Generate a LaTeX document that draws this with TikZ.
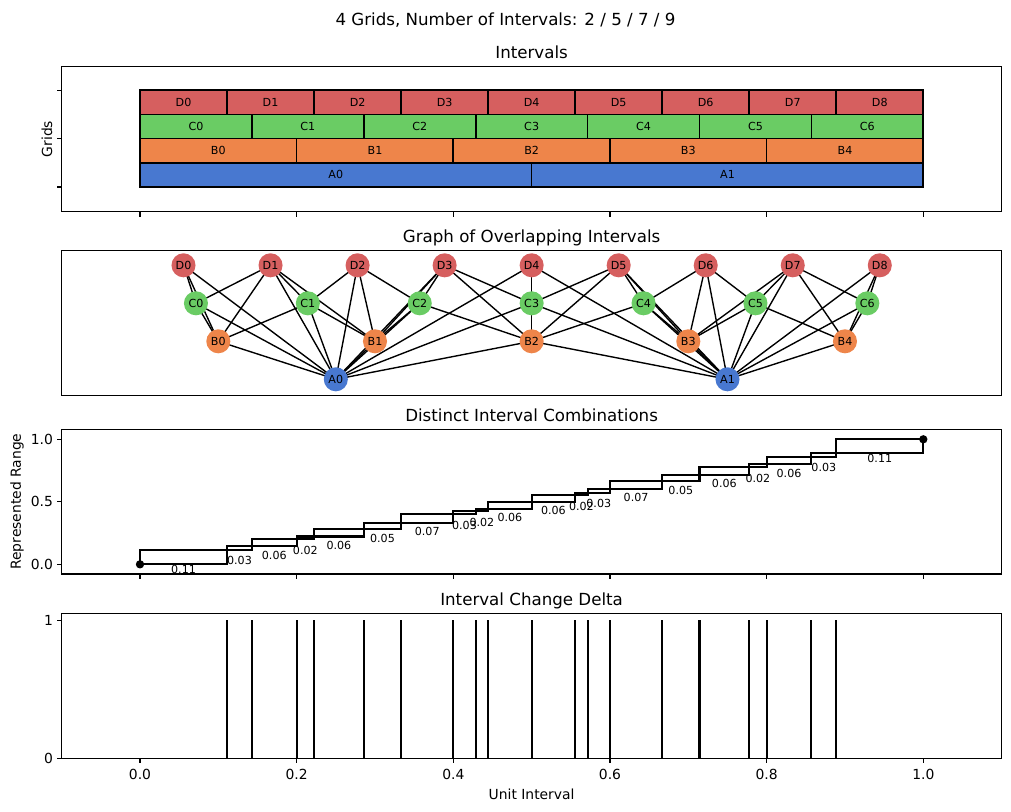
\documentclass[tikz,border=0pt]{standalone}
\usepackage{fontspec}
\setmainfont{DejaVu Sans}
\definecolor{cA}{HTML}{4878D0}
\definecolor{cB}{HTML}{EE854A}
\definecolor{cC}{HTML}{6ACC64}
\definecolor{cD}{HTML}{D65F5F}
\pgfdeclarelayer{bg}
\pgfsetlayers{bg,main}
\begin{document}
\begin{tikzpicture}[x=0.72pt,y=-0.72pt,
 every node/.style={inner sep=0pt, outer sep=0pt},
 frame/.style={line width=0.8pt},
 tick/.style={line width=0.8pt},
 ttl/.style={font=\fontsize{12}{14}\selectfont, anchor=base},
 ticklbl/.style={font=\fontsize{10}{12}\selectfont},
 small/.style={font=\fontsize{8}{9.6}\selectfont},
 bar/.style={draw=black, line width=1.2pt},
 gnode/.style={circle, minimum size=17.32pt, font=\fontsize{8}{9.6}\selectfont, text=black},
 edge/.style={line width=1pt, black},
 stepbox/.style={line width=1.5pt, black},
 vline/.style={line width=1.5pt, black},
]
\useasboundingbox (0,0) rectangle (1011,811);

% titles
\node[ttl] (mt) at (505.5,25) {4 Grids, Number of Intervals: 2 / 5 / 7 / 9};
\node[ttl] (t1) at (531.6,58.8) {Intervals};
\node[ttl] (t2) at (531.6,242.8) {Graph of Overlapping Intervals};
\node[ttl] (t3) at (531.6,421.8) {Distinct Interval Combinations};
\node[ttl] (t4) at (531.6,605.8) {Interval Change Delta};

% ---------------- panel 1: intervals ----------------
\begin{scope}[shift={(100.8pt,-134.64pt)}, x=563.98pt, y=17.406pt]
 \foreach \k in {0,...,1} {
  \draw[bar, fill=cA] ({\k/2},0) rectangle ({(\k+1)/2},1);
  \node[small] (bA\k) at ({(\k+0.5)/2},0.5) {A\k};
 }
 \foreach \k in {0,...,4} {
  \draw[bar, fill=cB] ({\k/5},1) rectangle ({(\k+1)/5},2);
  \node[small] (bB\k) at ({(\k+0.5)/5},1.5) {B\k};
 }
 \foreach \k in {0,...,6} {
  \draw[bar, fill=cC] ({\k/7},2) rectangle ({(\k+1)/7},3);
  \node[small] (bC\k) at ({(\k+0.5)/7},2.5) {C\k};
 }
 \foreach \k in {0,...,8} {
  \draw[bar, fill=cD] ({\k/9},3) rectangle ({(\k+1)/9},4);
  \node[small] (bD\k) at ({(\k+0.5)/9},3.5) {D\k};
 }
\end{scope}
\draw[frame] (61.67,66.3) rectangle (1001.63,211.7);
\foreach \k in {0,...,5} \draw[tick] ({140+156.66*\k},211.7) -- ++(0,4.86);
\foreach \yy in {187,138.65,90.3} \draw[tick] (61.67,\yy) -- ++(-4.86,0);
\node[ticklbl, rotate=90, anchor=base] (yl1) at (52,139) {Grids};

% ---------------- panel 2: graph ----------------
\begin{scope}[shift={(100.8pt,0pt)}, x=563.98pt]
 \foreach \k in {0,...,8} \node[gnode, fill=cD] (D\k) at ({(\k+0.5)/9},265.3) {D\k};
 \foreach \k in {0,...,6} \node[gnode, fill=cC] (C\k) at ({(\k+0.5)/7},303.3) {C\k};
 \foreach \k in {0,...,4} \node[gnode, fill=cB] (B\k) at ({(\k+0.5)/5},341.3) {B\k};
 \foreach \k in {0,...,1} \node[gnode, fill=cA] (A\k) at ({(\k+0.5)/2},379.3) {A\k};
\end{scope}
\begin{pgfonlayer}{bg}
 \foreach \a/\b in {D0/C0, D1/C0, D1/C1, D2/C1, D2/C2, D3/C2, D3/C3, D4/C3, D5/C3, D5/C4, D6/C4, D6/C5, D7/C5, D7/C6, D8/C6,
  D0/B0, D1/B0, D1/B1, D2/B1, D3/B1, D3/B2, D4/B2, D5/B2, D5/B3, D6/B3, D7/B3, D7/B4, D8/B4,
  D0/A0, D1/A0, D2/A0, D3/A0, D4/A0, D4/A1, D5/A1, D6/A1, D7/A1, D8/A1,
  C0/B0, C1/B0, C1/B1, C2/B1, C2/B2, C3/B2, C4/B2, C4/B3, C5/B3, C5/B4, C6/B4,
  C0/A0, C1/A0, C2/A0, C3/A0, C3/A1, C4/A1, C5/A1, C6/A1,
  B0/A0, B1/A0, B2/A0, B2/A1, B3/A1, B4/A1}
  \draw[edge] (\a.center) -- (\b.center);
\end{pgfonlayer}
\draw[frame] (61.67,250.3) rectangle (1001.63,395.3);

% ---------------- panel 3: combinations ----------------
\begin{scope}[shift={(100.8pt,-406.296pt)}, x=563.98pt, y=90pt]
 \clip (-0.1,-0.0776) rectangle (1.1,1.08);
 \foreach \a/\b/\w [count=\i] in {0/0.111111/0.11, 0.111111/0.142857/0.03, 0.142857/0.2/0.06, 0.2/0.222222/0.02,
   0.222222/0.285714/0.06, 0.285714/0.333333/0.05, 0.333333/0.4/0.07, 0.4/0.428571/0.03,
   0.428571/0.444444/0.02, 0.444444/0.5/0.06, 0.5/0.555556/0.06, 0.555556/0.571429/0.02,
   0.571429/0.6/0.03, 0.6/0.666667/0.07, 0.666667/0.714286/0.05, 0.714286/0.777778/0.06,
   0.777778/0.8/0.02, 0.8/0.857143/0.06, 0.857143/0.888889/0.03, 0.888889/1/0.11} {
  \draw[stepbox] (\a,\a) rectangle (\b,\b);
  \node[small] (w\i) at ({(\a+\b)/2},{(\a+\b)/2-0.1}) {\w};
 }
 \fill[black] (0,0) circle (3pt);
 \fill[black] (1,1) circle (3pt);
\end{scope}
\draw[frame] (61.67,429.3) rectangle (1001.63,574);
\foreach \k in {0,...,5} \draw[tick] ({140+156.66*\k},574) -- ++(0,4.86);
\foreach \yy/\l [count=\i] in {564.3/0.0, 501.8/0.5, 439.3/1.0} {
 \draw[tick] (61.67,\yy) -- ++(-4.86,0);
 \node[ticklbl, anchor=east] (yl3\i) at (53,\yy) {\l};
}
\node[ticklbl, rotate=90, anchor=base] (yl3) at (20.8,501.6) {Represented Range};

% ---------------- panel 4: delta ----------------
\begin{scope}[shift={(100.8pt,-545.976pt)}, x=563.98pt, y=99.36pt]
 \foreach \p in {0.111111, 0.142857, 0.2, 0.222222, 0.285714, 0.333333, 0.4, 0.428571, 0.444444, 0.5,
   0.555556, 0.571429, 0.6, 0.666667, 0.714286, 0.777778, 0.8, 0.857143, 0.888889}
  \draw[vline] (\p,0) -- (\p,1);
\end{scope}
\draw[frame] (61.67,613.3) rectangle (1001.63,758.3);
\foreach \k/\l in {0/0.0, 1/0.2, 2/0.4, 3/0.6, 4/0.8, 5/1.0} {
 \draw[tick] ({140+156.66*\k},758.3) -- ++(0,4.86);
 \node[ticklbl, anchor=north] (xl\k) at ({140+156.66*\k},769.3) {\l};
}
\foreach \yy/\l [count=\i] in {758.3/0, 620.3/1} {
 \draw[tick] (61.67,\yy) -- ++(-4.86,0);
 \node[ticklbl, anchor=east] (yl4\i) at (53,\yy) {\l};
}
\node[ticklbl, anchor=base] (xlab) at (531.6,799) {Unit Interval};
\end{tikzpicture}
\end{document}
